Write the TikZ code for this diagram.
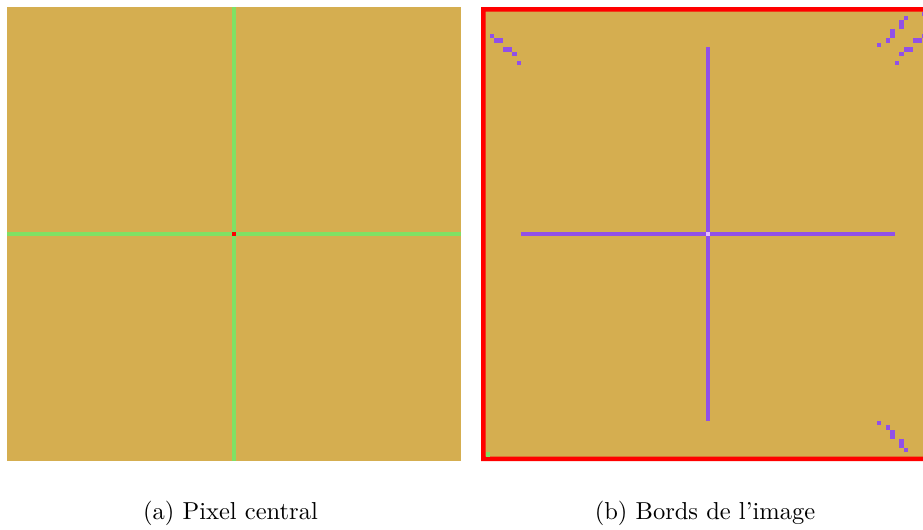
\documentclass[tikz,border=0pt]{standalone}
\usepackage{tikz}

\definecolor{fond}{RGB}{213,174,80}
\definecolor{vert}{RGB}{128,224,100}
\definecolor{violet}{RGB}{145,80,232}
\definecolor{violetclair}{RGB}{232,190,255}
\definecolor{rouge}{RGB}{255,0,0}

\begin{document}
\begin{tikzpicture}[x=0.408pt, y=-0.408pt,
  image/.style={x=1.834pt, y=-1.834pt},
  legende/.style={anchor=base, font=\normalsize, inner sep=0pt}]
  \useasboundingbox (0,0) rectangle (923,529);
  \clip (0,0) rectangle (923,529);

  % (a) pixel central
  \begin{scope}[shift={(2.856pt,-2.856pt)}, image]
    \fill[fond] (0,0) rectangle (101,101);
    \fill[vert] (50,0) rectangle (51,101);
    \fill[vert] (0,50) rectangle (101,51);
    \fill[rouge] (50,50) rectangle (51,51);
  \end{scope}

  % (b) bords de l'image
  \begin{scope}[shift={(196.25pt,-2.856pt)}, image]
    \fill[fond] (0,0) rectangle (101,101);
    \fill[rouge, even odd rule] (0,0) rectangle (101,101) (1,1) rectangle (100,100);
    \fill[vert] (1,99) rectangle (2,100);
    \fill[violet] (50,9) rectangle (51,92);
    \fill[violet] (9,50) rectangle (92,51);
    \fill[violetclair] (50,50) rectangle (51,51);
    \foreach \c/\r in {2/6, 3/7, 4/7, 5/9, 6/9, 7/10, 8/12,
                       98/6, 97/7, 96/7, 95/9, 94/9, 93/10, 92/12,
                       98/1, 94/2, 93/3, 93/4, 91/5, 91/6, 90/7, 88/8,
                       88/92, 90/93, 91/94, 91/95, 93/96, 93/97, 94/98}
      \fill[violet] (\c,\r) rectangle ++(1,1);
  \end{scope}

  \node[legende] (lega) at (230.5,519) {(a)\ Pixel central};
  \node[legende] (legb) at (705,519) {(b)\ Bords de l'image};
\end{tikzpicture}
\end{document}
